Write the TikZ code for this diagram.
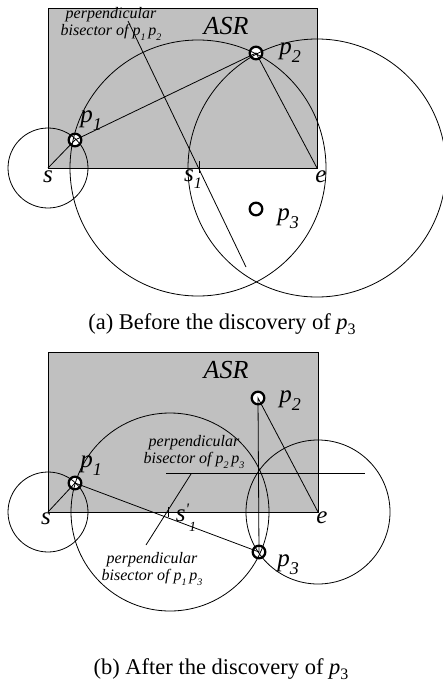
\documentclass[tikz,border=0pt]{standalone}
\usepackage{fontspec}
\setmainfont{Liberation Serif}
\newcommand\plab[1]{\textit{p}\raisebox{-0.32em}{\fontsize{18}{18}\selectfont\textit{#1}}}
\newcommand\psm[1]{\textit{p}\raisebox{-0.3em}{\fontsize{10}{10}\selectfont\textit{#1}}}
\begin{document}
\begin{tikzpicture}[x=1pt,y=-1pt,
  thin line/.style={line width=0.8pt},
  asrbox/.style={fill=asrgray, draw=black, line width=0.8pt},
  markfill/.style={circle, fill=white, minimum size=14pt, inner sep=0pt},
  markline/.style={line width=2.3pt},
  lab/.style={inner sep=0pt, font=\fontsize{25}{25}\selectfont\itshape},
  asrlab/.style={inner sep=0pt, font=\fontsize{26}{26}\selectfont\itshape},
  bis/.style={inner sep=0pt, align=center, font=\fontsize{16}{16.5}\selectfont\itshape},
  captext/.style={inner sep=0pt, font=\fontsize{22.5}{22.5}\selectfont}]
\definecolor{asrgray}{RGB}{192,192,192}
\useasboundingbox (0,0) rectangle (443,683);

% ---------------- panel (a)
\coordinate (as) at (48,168);
\coordinate (ae) at (317,168);
\coordinate (as1) at (198,168);
\coordinate (ap1) at (75,140);
\coordinate (ap2) at (256,53);
\coordinate (ap3) at (256,209);
\coordinate (abA) at (128,21);
\coordinate (abB) at (246,267);
\coordinate (atA) at (199,161);
\coordinate (atB) at (199,173);

\draw[asrbox] (48,8) rectangle (317,168);
\node[markfill] (am1) at (ap1) {};
\node[markfill] (am2) at (ap2) {};
\node[markfill] (am3) at (ap3) {};

\draw[thin line] (as) circle[radius=40pt];
\draw[thin line] (as1) circle[radius=128pt];
\draw[thin line] (ae) circle[radius=129pt];
\draw[thin line] (as) -- (ap1) -- (ap2) -- (ae);
\draw[thin line] (abA) -- (abB);
\draw[thin line] (atA) -- (atB);

\draw[markline] (ap1) circle[radius=6.3pt];
\draw[markline] (ap2) circle[radius=6.3pt];
\draw[markline] (ap3) circle[radius=6.3pt];

\node[asrlab] (aASR) at (226,26) {ASR};
\node[bis] (abis) at (111,24) {perpendicular\\bisector of \psm{1}\,\psm{2}};
\node[lab] (ap1l) at (91,121) {\plab{1}};
\node[lab] (ap2l) at (290,53) {\plab{2}};
\node[lab] (ap3l) at (288,219) {\plab{3}};
\node[lab] (asl) at (48,177) {s};
\node[lab] (as1l) at (193,179) {s\raisebox{-0.3em}{\fontsize{16}{16}\selectfont 1}};
\node[lab] (ael) at (321,177) {e};
\node[captext] (acap) at (222,324) {(a) Before the discovery of \textit{p}\raisebox{-0.25em}{\fontsize{16}{16}\selectfont 3}};

% ---------------- panel (b)
\coordinate (bs) at (48,512);
\coordinate (be) at (318,512);
\coordinate (bs1) at (170,512);
\coordinate (bp1) at (75,483);
\coordinate (bp2) at (258,398);
\coordinate (bp3) at (259,552);
\coordinate (bhA) at (166,473);
\coordinate (bhB) at (365,473);
\coordinate (bbA) at (191,474);
\coordinate (bbB) at (146,545);
\coordinate (btA) at (168,507);
\coordinate (btB) at (168,517);

\draw[asrbox] (48,352) rectangle (318,512);
\node[markfill] (bm1) at (bp1) {};
\node[markfill] (bm2) at (bp2) {};
\node[markfill] (bm3) at (bp3) {};

\draw[thin line] (bs) circle[radius=40pt];
\draw[thin line] (bs1) circle[radius=99pt];
\draw[thin line] (be) circle[radius=72pt];
\draw[thin line] (bs) -- (bp1) -- (bp3) -- (bp2) -- (be);
\draw[thin line] (bhA) -- (bhB);
\draw[thin line] (bbA) -- (bbB);
\draw[thin line] (btA) -- (btB);

\draw[markline] (bp1) circle[radius=6.3pt];
\draw[markline] (bp2) circle[radius=6.3pt];
\draw[markline] (bp3) circle[radius=6.3pt];

\node[asrlab] (bASR) at (226,370) {ASR};
\node[bis] (bbis1) at (194,452) {perpendicular\\bisector of \psm{2}\,\psm{3}};
\node[bis] (bbis2) at (152,569) {perpendicular\\bisector of \psm{1}\,\psm{3}};
\node[lab] (bp1l) at (91,466) {\plab{1}};
\node[lab] (bp2l) at (290,401) {\plab{2}};
\node[lab] (bp3l) at (288,565) {\plab{3}};
\node[lab] (bsl) at (46,519) {s};
\node[lab] (bs1l) at (186,518) {s\raisebox{0.3em}{\fontsize{16}{16}\selectfont\textquotesingle}\raisebox{-0.4em}{\fontsize{14}{14}\selectfont 1}};
\node[lab] (bel) at (322,518) {e};
\node[captext] (bcap) at (221,669) {(b) After the discovery of \textit{p}\raisebox{-0.25em}{\fontsize{16}{16}\selectfont 3}};
\end{tikzpicture}
\end{document}
